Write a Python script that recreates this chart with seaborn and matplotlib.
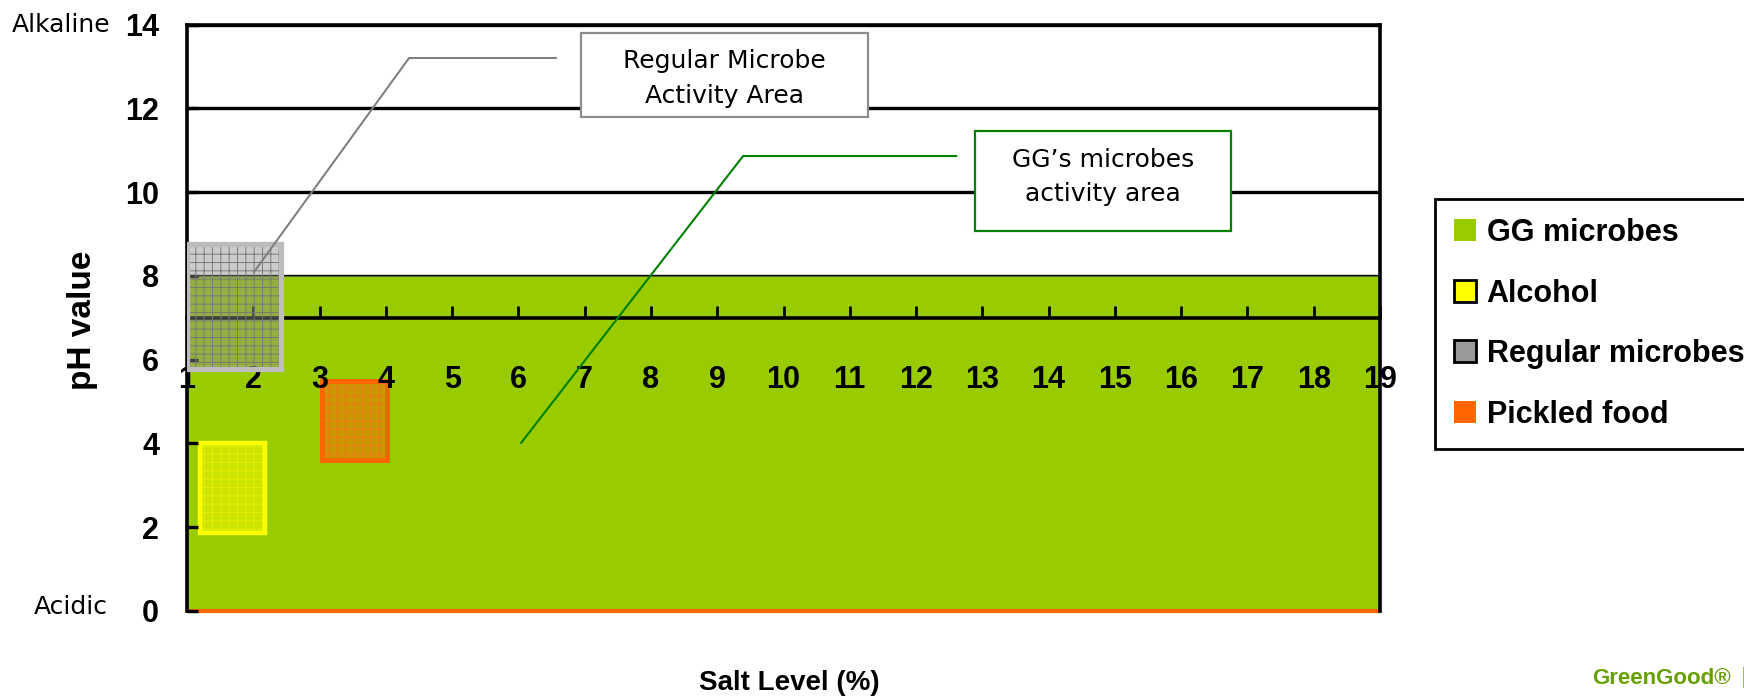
import matplotlib
matplotlib.use("Agg")
import matplotlib.pyplot as plt
import seaborn as sns
import pandas as pd
from matplotlib.patches import Patch, Rectangle

# ---------------- data ----------------
groups = ["GG microbes", "Alcohol", "Regular microbes", "Pickled food"]
salt_low = [1.0, 1.2, 1.0, 3.03]
salt_high = [19.0, 2.17, 2.42, 4.02]
ph_low = [0.0, 1.85, 5.78, 3.6]
ph_high = [8.0, 4.0, 8.76, 5.5]
x_ticks = list(range(1, 20))
y_ticks = [0, 2, 4, 6, 8, 10, 12, 14]

colors = {"GG microbes": "#99CC00", "Alcohol": "#FFFF00",
          "Regular microbes": "#999999", "Pickled food": "#FF6600"}

df = pd.DataFrame({"group": groups, "x0": salt_low, "x1": salt_high,
                   "y0": ph_low, "y1": ph_high})

# ---------------- style ----------------
sns.set_theme(style="white")
plt.rcParams["font.family"] = ["Liberation Sans", "DejaVu Sans"]
plt.rcParams["hatch.linewidth"] = 0.7
plt.rcParams["text.color"] = "black"
plt.rcParams["axes.labelcolor"] = "black"
plt.rcParams["xtick.color"] = "black"
plt.rcParams["ytick.color"] = "black"

fig = plt.figure(figsize=(17.44, 6.99), dpi=100)
ax = fig.add_axes([187 / 1744, 1 - 611 / 699, (1380 - 187) / 1744, (611 - 24.5) / 699])
ax.set_facecolor("white")
ax.set_axisbelow(False)

ax.set_xlim(1, 19)
ax.set_ylim(0, 14)

# horizontal gridlines (beneath green area)
for yv in y_ticks[1:]:
    ax.axhline(yv, color="black", lw=2.4, zorder=0.5)

# GG microbes area
row = df.iloc[0]
ax.bar(row.x0, row.y1 - row.y0, width=row.x1 - row.x0, bottom=row.y0, align="edge",
       color=colors[row.group], edgecolor="#556b2f", linewidth=0.8, zorder=1)
ax.axhline(0, color="#FF6600", lw=3.0, zorder=1.2, clip_on=False)

# small boxes
styles = {
    "Alcohol": dict(fill=(1, 1, 0, 0.5), hatch_col="#E6F000", border="#FFFF00", lw=3.2, z=2.0),
    "Regular microbes": dict(fill=(0.55, 0.55, 0.55, 0.45), hatch_col="#7a7a7a", border="#BDBDBD", lw=3.8, z=3.0),
    "Pickled food": dict(fill=(1, 0.4, 0, 0.5), hatch_col="#F07818", border="#FF6600", lw=3.6, z=2.0),
}
for _, r in df.iloc[1:].iterrows():
    st = styles[r.group]
    ax.bar(r.x0, r.y1 - r.y0, width=r.x1 - r.x0, bottom=r.y0, align="edge",
           color=st["fill"], edgecolor=st["hatch_col"], linewidth=0, hatch="++", zorder=st["z"])
    ax.bar(r.x0, r.y1 - r.y0, width=r.x1 - r.x0, bottom=r.y0, align="edge",
           fill=False, edgecolor=st["border"], linewidth=st["lw"], zorder=st["z"] + 0.01)

# ---------------- axes / spines ----------------
for s in ["left", "right", "top", "bottom"]:
    ax.spines[s].set_visible(True)
    ax.spines[s].set_color("black")
    ax.spines[s].set_linewidth(2.6)
ax.spines["bottom"].set_position(("data", 7))

ax.set_xticks(x_ticks)
ax.set_xticklabels([str(v) for v in x_ticks])
ax.set_yticks(y_ticks)
ax.set_yticklabels([str(v) for v in y_ticks])
ax.tick_params(axis="x", direction="in", length=9, width=2, pad=34, bottom=True, top=False,
               colors="black")
ax.tick_params(axis="y", direction="in", length=8, width=2.4, pad=20, left=True, right=False,
               colors="black")
for lab in ax.get_xticklabels() + ax.get_yticklabels():
    lab.set_fontfamily(["Liberation Sans", "DejaVu Sans"])
    lab.set_fontweight("bold")
    lab.set_fontsize(22)
    lab.set_color("black")
ax.grid(False)

ax.set_xlabel("Salt Level (%)", fontsize=20, fontweight="bold", color="black")
ax.xaxis.set_label_coords(0.505, -0.1)
ax.set_ylabel("pH value", fontsize=24, fontweight="bold", color="black")
ax.yaxis.set_label_coords(-0.075, 0.496)

# Alkaline / Acidic
ax.text(-0.064, 14, "Alkaline", transform=ax.get_yaxis_transform(), ha="right", va="center",
        fontsize=18, family="DejaVu Sans", color="black", clip_on=False)
ax.text(-0.066, 0.1, "Acidic", transform=ax.get_yaxis_transform(), ha="right", va="center",
        fontsize=18, family="DejaVu Sans", color="black", clip_on=False)

# ---------------- callouts ----------------
ax.plot([6.57, 4.35, 2.01], [13.2, 13.2, 8.09], color="#808080", lw=1.5, zorder=4)
ax.add_patch(Rectangle((6.94, 11.79), 11.27 - 6.94, 13.8 - 11.79, facecolor="white",
                       edgecolor="#8c8c8c", lw=1.6, zorder=4))
ax.text((6.94 + 11.27) / 2, (11.79 + 13.8) / 2 - 0.08, "Regular Microbe\nActivity Area",
        ha="center", va="center", fontsize=18, family="DejaVu Sans", color="black",
        linespacing=1.55, zorder=5)

ax.plot([12.61, 9.39, 6.04], [10.86, 10.86, 4.01], color="#008000", lw=1.5, zorder=4)
ax.add_patch(Rectangle((12.89, 9.07), 16.75 - 12.89, 11.46 - 9.07, facecolor="white",
                       edgecolor="#008000", lw=1.6, zorder=4))
ax.text((12.89 + 16.75) / 2, (9.07 + 11.46) / 2 + 0.1, "GG\u2019s microbes\nactivity area",
        ha="center", va="center", fontsize=18, family="DejaVu Sans", color="black",
        linespacing=1.55, zorder=5)

# ---------------- legend ----------------
handles = [
    Patch(facecolor=colors["GG microbes"], edgecolor="none"),
    Patch(facecolor=colors["Alcohol"], edgecolor="black", linewidth=2),
    Patch(facecolor=colors["Regular microbes"], edgecolor="black", linewidth=2),
    Patch(facecolor=colors["Pickled food"], edgecolor="none"),
]
leg = fig.legend(handles, groups, loc="upper left", bbox_to_anchor=(1435 / 1744, 1 - 199 / 699),
                 bbox_transform=fig.transFigure, frameon=True, fancybox=False, framealpha=1,
                 edgecolor="black", borderaxespad=0, prop={"size": 22, "weight": "bold"},
                 labelcolor="black",
                 handlelength=0.72, handleheight=0.72, handletextpad=0.35,
                 labelspacing=1.0, borderpad=0.62)
leg.get_frame().set_linewidth(2)

# footer
fig.text(1592 / 1744, 1 - 678 / 699, "GreenGood\u00ae", color="#66A000", fontsize=16,
         fontweight="bold", ha="left", va="center")
fig.text(1741 / 1744, 1 - 678 / 699, "|", color="#9fc060", fontsize=16,
         ha="left", va="center")

fig.savefig("out.png", dpi=100)
